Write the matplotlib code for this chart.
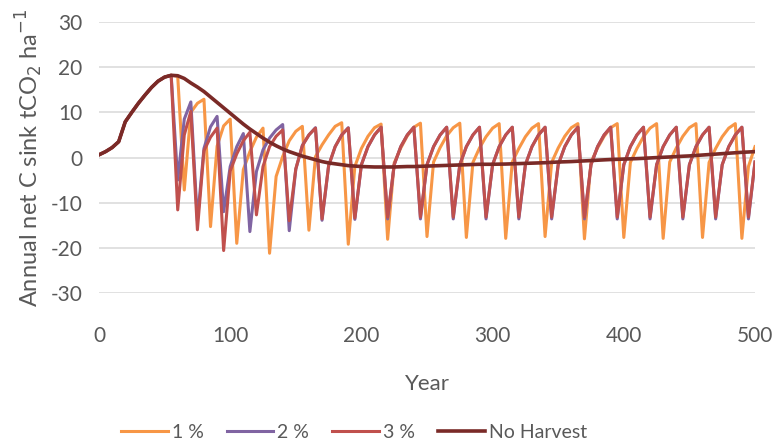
import matplotlib
matplotlib.use("Agg")
import matplotlib.pyplot as plt
import numpy as np

years = list(range(0, 505, 5))

no_harvest = [
    0.6, 1.3, 2.2, 3.5, 7.9, 10.0, 12.0, 13.8, 15.5, 16.9,      # 0-45
    17.8, 18.2, 18.1, 17.5, 16.5, 15.6, 14.6, 13.4, 12.2, 11.0,  # 50-95
    9.8, 8.6, 7.4, 6.3, 5.3, 4.3, 3.4, 2.6, 1.9, 1.3,            # 100-145
    0.8, 0.3, -0.1, -0.5, -0.9, -1.2, -1.4, -1.6, -1.8, -1.9,    # 150-195
    -2.0, -2.05, -2.1, -2.1, -2.1, -2.1, -2.05, -2.0, -2.0, -1.95,  # 200-245
    -1.9, -1.85, -1.8, -1.75, -1.7, -1.65, -1.6, -1.55, -1.5, -1.5,  # 250-295
    -1.5, -1.47, -1.45, -1.4, -1.35, -1.3, -1.25, -1.2, -1.15, -1.07,  # 300-345
    -1.0, -0.95, -0.9, -0.82, -0.75, -0.68, -0.6, -0.52, -0.45, -0.4,  # 350-395
    -0.35, -0.3, -0.25, -0.18, -0.1, -0.02, 0.05, 0.12, 0.2, 0.28,     # 400-445
    0.35, 0.45, 0.55, 0.65, 0.75, 0.85, 0.95, 1.05, 1.15, 1.22,        # 450-495
    1.3,                                                                # 500
]

harvest_1pct = [
    0.6, 1.3, 2.2, 3.5, 7.9, 10.0, 12.0, 13.8, 15.5, 16.9,      # 0-45
    17.8, 18.2, 18.0, -7.2, 10.0, 12.0, 12.9, -15.3, 2.5, 7.0,   # 50-95
    8.5, -19.0, -2.7, 1.3, 4.5, 6.5, -21.2, -4.2, 0.2, 3.7,      # 100-145
    5.8, 6.9, -16.1, 0.2, 2.8, 5.0, 6.9, 7.7, -19.2, -2.0,       # 150-195
    2.0, 4.7, 6.6, 7.4, -18.1, -1.2, 2.1, 4.8, 6.7, 7.6,         # 200-245
    -17.5, -1.0, 2.2, 4.8, 6.6, 7.6, -17.7, -1.1, 2.1, 4.6,      # 250-295
    6.5, 7.5, -17.9, -1.0, 2.0, 4.6, 6.5, 7.5, -17.5, -1.1,      # 300-345
    2.1, 4.7, 6.6, 7.5, -18.0, -1.0, 2.1, 4.7, 6.6, 7.5,         # 350-395
    -17.7, -1.1, 2.0, 4.6, 6.5, 7.5, -17.9, -1.0, 2.1, 4.7,      # 400-445
    6.6, 7.5, -17.7, -1.1, 2.0, 4.6, 6.5, 7.5, -17.9, -2.0,      # 450-495
    2.4,                                                          # 500
]

harvest_2pct = [
    0.6, 1.3, 2.2, 3.5, 7.9, 10.0, 12.0, 13.8, 15.5, 16.9,      # 0-45
    17.8, 18.2, -5.0, 8.5, 12.3, -14.0, 2.0, 6.8, 9.1, -12.0,    # 50-95
    -2.0, 2.4, 5.3, -16.4, -3.1, 1.7, 4.3, 6.1, 7.3, -16.2,      # 100-145
    -2.6, 2.7, 5.0, 6.6, -13.9, -1.9, 2.4, 5.0, 6.6, -13.7,      # 150-195
    -1.6, 2.4, 5.0, 6.7, -13.6, -1.6, 2.4, 5.0, 6.7, -13.6,      # 200-245
    -1.6, 2.4, 5.0, 6.7, -13.6, -1.6, 2.4, 5.0, 6.7, -13.6,      # 250-295
    -1.6, 2.4, 5.0, 6.7, -13.6, -1.6, 2.4, 5.0, 6.7, -13.6,      # 300-345
    -1.6, 2.4, 5.0, 6.7, -13.6, -1.6, 2.4, 5.0, 6.7, -13.6,      # 350-395
    -1.6, 2.4, 5.0, 6.7, -13.6, -1.6, 2.4, 5.0, 6.7, -13.6,      # 400-445
    -1.6, 2.4, 5.0, 6.7, -13.6, -1.6, 2.4, 5.0, 6.7, -13.6,      # 450-495
    -1.0,                                                         # 500
]

harvest_3pct = [
    0.6, 1.3, 2.2, 3.5, 7.9, 10.0, 12.0, 13.8, 15.5, 16.9,      # 0-45
    17.8, 18.2, -11.6, 5.0, 10.2, -16.0, 1.5, 4.5, 6.5, -20.6,   # 50-95
    -3.0, 0.8, 3.7, 5.6, -12.7, -2.0, 2.4, 4.7, 6.1, -14.0,      # 100-145
    -2.5, 2.6, 5.0, 6.5, -13.6, -1.8, 2.4, 5.0, 6.5, -13.4,      # 150-195
    -1.6, 2.4, 5.0, 6.7, -13.2, -1.6, 2.4, 5.0, 6.7, -13.2,      # 200-245
    -1.6, 2.4, 5.0, 6.7, -13.2, -1.6, 2.4, 5.0, 6.7, -13.2,      # 250-295
    -1.6, 2.4, 5.0, 6.7, -13.2, -1.6, 2.4, 5.0, 6.7, -13.2,      # 300-345
    -1.6, 2.4, 5.0, 6.7, -13.2, -1.6, 2.4, 5.0, 6.7, -13.2,      # 350-395
    -1.6, 2.4, 5.0, 6.7, -13.2, -1.6, 2.4, 5.0, 6.7, -13.2,      # 400-445
    -1.6, 2.4, 5.0, 6.7, -13.2, -1.6, 2.4, 5.0, 6.7, -13.2,      # 450-495
    -1.0,                                                         # 500
]

series_names = ["1 %", "2 %", "3 %", "No Harvest"]
series_colors = ["#F79646", "#8064A2", "#C0504D", "#7A2A27"]
x_ticks = [0, 100, 200, 300, 400, 500]
y_ticks = [-30, -20, -10, 0, 10, 20, 30]

plt.rcParams['font.family'] = ['Lato', 'DejaVu Sans']
text_color = "#595959"

fig = plt.figure(figsize=(7.73, 4.42), dpi=100)
ax = fig.add_axes([99/773, 1 - 293/442, (755 - 99)/773, (293 - 22)/442])

all_series = [harvest_1pct, harvest_2pct, harvest_3pct, no_harvest]
widths = [2.2, 2.2, 2.2, 2.6]
for vals, name, col, lw in zip(all_series, series_names, series_colors, widths):
    ax.plot(years, vals, color=col, lw=lw, label=name, solid_joinstyle='round', zorder=3)

ax.set_xlim(0, 500)
ax.set_ylim(-30, 30)
ax.set_xticks(x_ticks)
ax.set_yticks(y_ticks)
ax.set_yticklabels([str(v) for v in y_ticks])
ax.grid(axis='y', color='#D9D9D9', lw=1.1, zorder=0)
ax.grid(axis='x', visible=False)
for s in ax.spines.values():
    s.set_visible(False)
ax.tick_params(axis='both', length=0, labelsize=15, colors=text_color)
ax.tick_params(axis='x', pad=24)
ax.tick_params(axis='y', pad=12)

ax.set_xlabel("Year", fontsize=16, color=text_color, labelpad=20)
ax.set_ylabel("Annual net C sink tCO$_2$ ha$^{-1}$", fontsize=17, color=text_color, labelpad=4)

leg = fig.legend(loc='center', bbox_to_anchor=(354/773, 1 - 432/442), ncol=4, frameon=False,
                 fontsize=14, handlelength=2.4, handletextpad=0.2, columnspacing=1.2,
                 labelcolor=text_color, borderaxespad=0, borderpad=0)

fig.savefig("out.png", dpi=100)
